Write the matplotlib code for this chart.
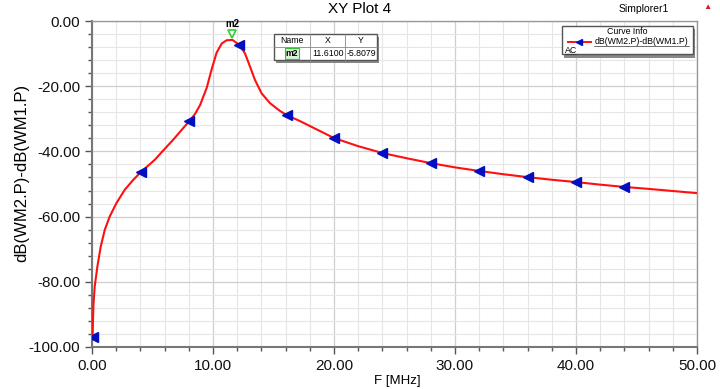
import numpy as np
from matplotlib import pyplot as plt
from matplotlib.ticker import MultipleLocator, FormatStrFormatter
from matplotlib.patches import Rectangle
from matplotlib.lines import Line2D

plt.rcParams["font.family"] = ["Liberation Sans", "DejaVu Sans"]

# curve
f_mhz = [0.05, 0.08, 0.12, 0.22, 0.44, 0.72, 1.05, 1.46, 2.01, 2.7, 3.39, 4.02, 5.18, 5.89,
         6.69, 7.27, 8.04, 8.5, 8.93, 9.48, 9.89, 10.3, 10.72, 11.13, 11.61, 12.17, 12.64, 13.06,
         13.47, 14.02, 14.71, 15.54, 16.1, 17.19, 18.0, 20.0, 22.0, 24.0, 26.0, 28.0, 30.0,
         32.0, 34.0, 36.0, 38.0, 40.0, 42.0, 44.0, 46.0, 50.0]
db = [-96.9, -91.7, -87.0, -81.5, -75.4, -69.2, -64.1, -60.0, -55.9, -51.8, -48.8, -46.4, -42.6,
      -39.7, -36.5, -34.0, -30.7, -28.6, -25.8, -20.5, -14.8, -9.7, -6.9, -5.9, -5.81, -7.3, -9.9,
      -14.0, -18.1, -22.2, -25.2, -27.6, -28.9, -30.7, -32.2, -35.9, -38.4, -40.5, -42.1, -43.6,
      -44.9, -46.0, -47.0, -47.9, -48.7, -49.4, -50.2, -50.9, -51.5, -52.8]

# blue curve symbols
mk_f = [0.05, 4.02, 8.04, 12.17, 16.1, 20.0, 24.0, 28.0, 32.0, 36.0, 40.0, 44.0]
mk_db = [-96.9, -46.4, -30.7, -7.3, -28.9, -35.9, -40.5, -43.6, -46.0, -47.9, -49.4, -50.9]

m2_x, m2_y = 11.61, -5.8079

fig = plt.figure(figsize=(7.2, 3.89), dpi=100)
ax = fig.add_axes([0.1278, 0.108, 0.8402, 0.838])

ax.plot(f_mhz, db, color="#ff1010", lw=1.5, zorder=3, solid_joinstyle="round")
ax.plot(mk_f, mk_db, ls="none", marker="<", ms=6.5, color="#0010c0", zorder=4)

# marker m2
ax.plot([m2_x], [m2_y + 1.8], marker="v", ms=6, mfc="none", mec="#30d030", mew=1.2, ls="none", zorder=5)
ax.text(m2_x, m2_y + 3.3, "m2", ha="center", va="bottom", fontsize=7, fontweight="bold")

ax.set_xlim(0, 50)
ax.set_ylim(-100, 0)
ax.xaxis.set_major_locator(MultipleLocator(10))
ax.xaxis.set_minor_locator(MultipleLocator(2))
ax.yaxis.set_major_locator(MultipleLocator(20))
ax.yaxis.set_minor_locator(MultipleLocator(4))
ax.xaxis.set_major_formatter(FormatStrFormatter("%.2f"))
ax.yaxis.set_major_formatter(FormatStrFormatter("%.2f"))
ax.grid(which="major", color="#cfcfcf", lw=0.9)
ax.grid(which="minor", color="#e6e6e6", lw=0.8)
ax.set_axisbelow(True)
ax.tick_params(which="both", direction="out", colors="#555555", labelcolor="#111111", labelsize=11)
ax.tick_params(which="major", length=5, width=1)
ax.tick_params(which="minor", length=3, width=1)
for s in ["top", "right"]:
    ax.spines[s].set_color("#999999")
    ax.spines[s].set_linewidth(1)
for s in ["left", "bottom"]:
    ax.spines[s].set_color("#777777")
    ax.spines[s].set_linewidth(1.5)

ax.set_xlabel("F [MHz]", fontsize=9.5, labelpad=2)
ax.xaxis.set_label_coords(0.504, -0.085)
ax.set_ylabel("dB(WM2.P)-dB(WM1.P)", fontsize=12)
ax.yaxis.set_label_coords(-0.104, 0.535)

fig.text(0.5, 0.978, "XY Plot 4", ha="center", va="center", fontsize=11)
fig.text(0.894, 0.978, "Simplorer1", ha="center", va="center", fontsize=7.5)
fig.text(0.983, 0.981, "\u25b2", ha="center", va="center", fontsize=6, color="#cc2222")

# marker table
tx, ty, tw, th = 0.3805, 0.846, 0.143, 0.066
fig.patches.append(Rectangle((tx + 0.003, ty - 0.008), tw, th, transform=fig.transFigure,
                             facecolor="#888888", edgecolor="none", zorder=5))
fig.patches.append(Rectangle((tx, ty), tw, th, transform=fig.transFigure,
                             facecolor="white", edgecolor="#555555", lw=1, zorder=6))
cols = [0.0, 0.05, 0.099, 0.143]
fig.add_artist(Line2D([tx, tx + tw], [ty + th / 2] * 2, transform=fig.transFigure, color="#888888", lw=0.6, zorder=7))
for c in cols[1:-1]:
    fig.add_artist(Line2D([tx + c] * 2, [ty, ty + th], transform=fig.transFigure, color="#888888", lw=0.6, zorder=7))
heads = ["Name", "X", "Y"]
vals = ["m2", "%.4f" % m2_x, "%.4f" % m2_y]
for i in range(3):
    cx = tx + (cols[i] + cols[i + 1]) / 2
    fig.text(cx, ty + th * 0.75, heads[i], ha="center", va="center", fontsize=6.3, zorder=8)
    fig.text(cx, ty + th * 0.25, vals[i], ha="center", va="center", fontsize=6.3, zorder=8,
             fontweight="bold" if i == 0 else "normal",
             bbox=dict(boxstyle="square,pad=0.1", fc="#d8f0d8", ec="#30c030", lw=0.8) if i == 0 else None)

# curve info box
bx, by, bw, bh = 0.7805, 0.86, 0.182, 0.073
fig.patches.append(Rectangle((bx + 0.003, by - 0.008), bw, bh, transform=fig.transFigure,
                             facecolor="#888888", edgecolor="none", zorder=5))
fig.patches.append(Rectangle((bx, by), bw, bh, transform=fig.transFigure,
                             facecolor="white", edgecolor="#555555", lw=1, zorder=6))
fig.text(bx + bw / 2, by + bh * 0.8, "Curve Info", ha="center", va="center", fontsize=6.3, zorder=8)
fig.add_artist(Line2D([bx + 0.008, bx + 0.04], [by + bh * 0.45] * 2, transform=fig.transFigure,
                      color="#ff1010", lw=1.4, zorder=8))
fig.add_artist(Line2D([bx + 0.024], [by + bh * 0.45], transform=fig.transFigure, marker="<", ms=5,
                      color="#0010c0", ls="none", zorder=9))
fig.text(bx + 0.045, by + bh * 0.45, "dB(WM2.P)-dB(WM1.P)", ha="left", va="center", fontsize=6.3,
         zorder=8)
fig.add_artist(Line2D([bx + 0.045, bx + 0.177], [by + bh * 0.31] * 2, transform=fig.transFigure,
                      color="#333333", lw=0.5, zorder=8))
fig.text(bx + 0.004, by + bh * 0.15, "AC", ha="left", va="center", fontsize=6.3, zorder=8)
fig.add_artist(Line2D([bx + 0.004, bx + 0.019], [by + bh * 0.03] * 2, transform=fig.transFigure,
                      color="#333333", lw=0.5, zorder=8))

fig.savefig("out.png", dpi=100)
